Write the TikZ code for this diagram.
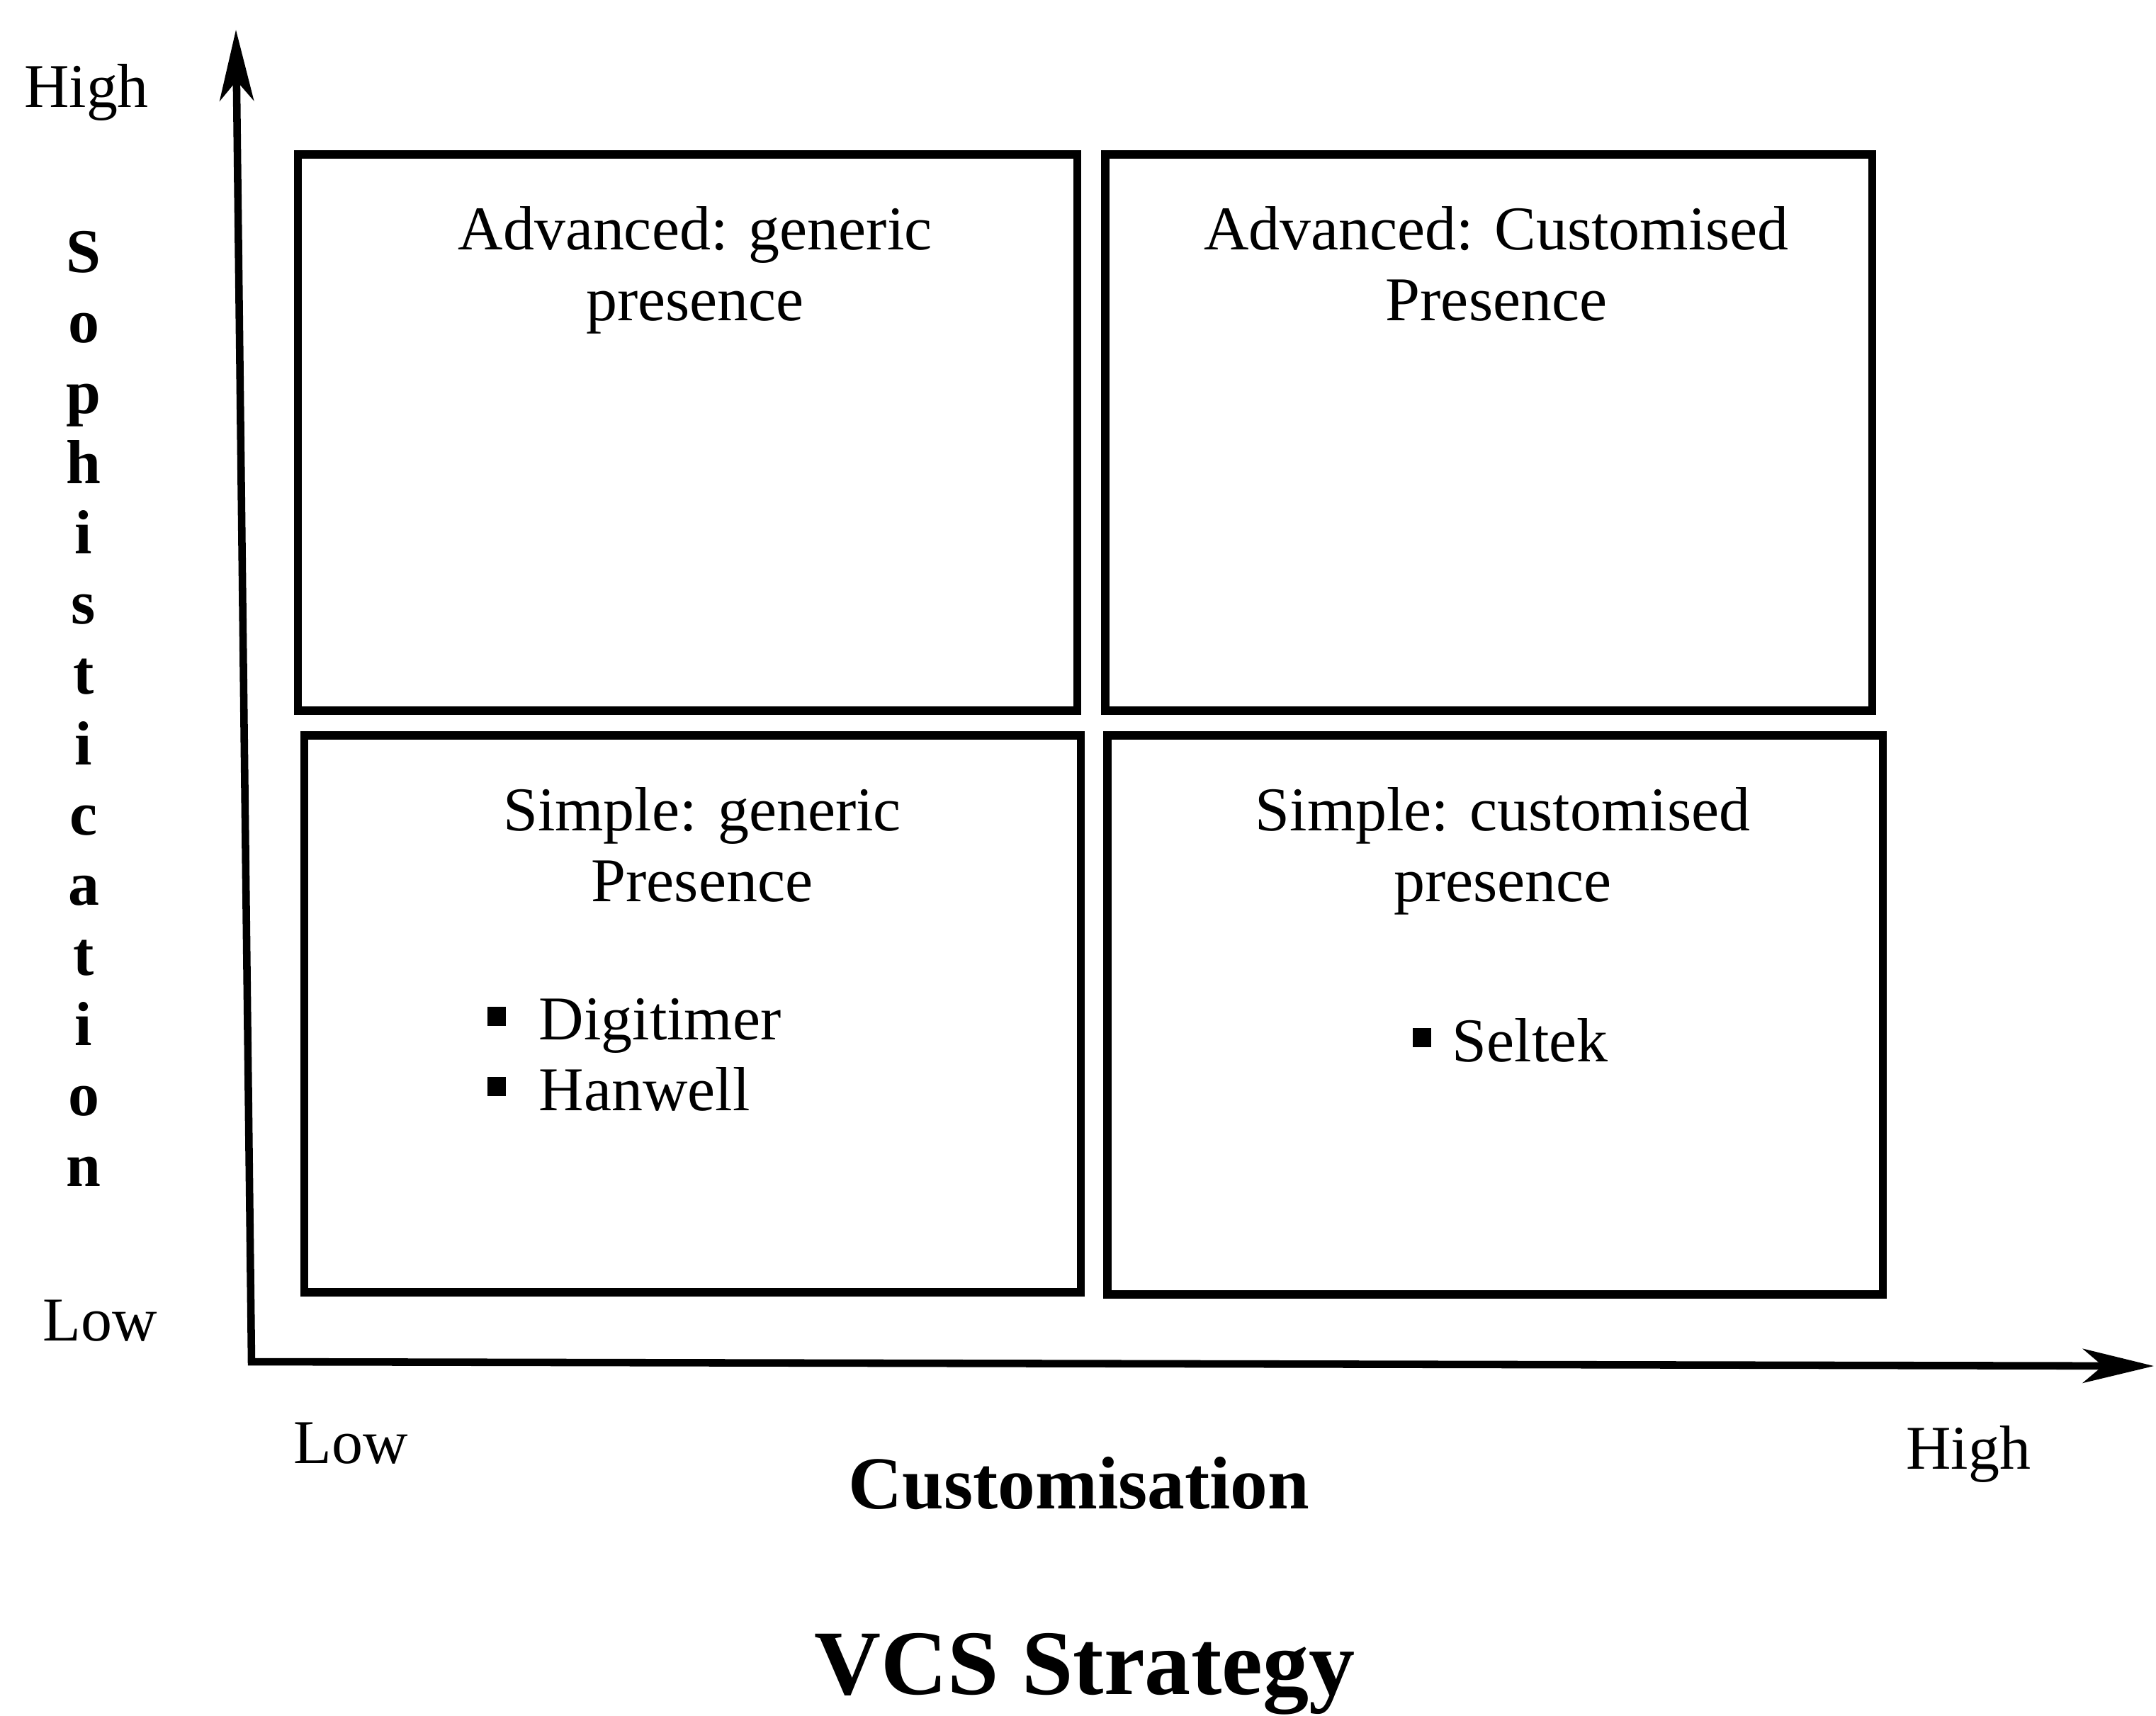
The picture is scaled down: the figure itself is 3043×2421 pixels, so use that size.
\documentclass[tikz,border=0pt]{standalone}
\usepackage{fontspec}
\setmainfont{Liberation Serif}
\usetikzlibrary{arrows.meta}
% small filled square used as a list bullet
\newcommand\sqbul{\raisebox{0.2cm}{\rule{0.26cm}{0.27cm}}}
\begin{document}
\begin{tikzpicture}[x=0.01cm,y=-0.01cm,
  quad/.style={draw,line width=3.3pt,inner sep=0pt,outer sep=0pt},
  axisline/.style={line width=3pt,line join=miter,
    {Stealth[length=1cm,width=0.48cm,inset=0.28cm]}-{Stealth[length=1cm,width=0.48cm,inset=0.28cm]}},
  body/.style={font=\fontsize{25}{28.2}\selectfont,inner sep=0pt},
  bodybf/.style={font=\bfseries\fontsize{25}{28.2}\selectfont,inner sep=0pt},
  xlabel/.style={font=\bfseries\fontsize{30}{36}\selectfont,inner sep=0pt},
  caption/.style={font=\bfseries\fontsize{37}{44}\selectfont,inner sep=0pt}]
\useasboundingbox (0,0) rectangle (3043,2421);

% axes
\coordinate (O) at (355,1922);
\coordinate (ytip) at (333,42);
\coordinate (xtip) at (3040,1928);
\draw[axisline] (ytip) -- (O) -- (xtip);

% the four quadrants
\node[quad,minimum width=10.99cm,minimum height=7.85cm] (tl) at (970.5,610.5) {};
\node[quad,minimum width=10.82cm,minimum height=7.85cm] (tr) at (2101,610.5) {};
\node[quad,minimum width=10.95cm,minimum height=7.86cm] (bl) at (977.5,1431) {};
\node[quad,minimum width=10.94cm,minimum height=7.89cm] (br) at (2110,1432.5) {};

% quadrant titles (base anchor = baseline of the last line)
\node[body,align=center,anchor=base] (tltxt) at (981,452) {Advanced: generic\\presence};
\node[body,align=center,anchor=base] (trtxt) at (2112,452) {Advanced: Customised\\Presence};
\node[body,align=center,anchor=base] (bltxt) at (991,1272) {Simple: generic\\Presence};
\node[body,align=center,anchor=base] (brtxt) at (2121,1272) {Simple: customised\\presence};

% firms in each quadrant
\node[body,align=left,anchor=base west] (firmsa) at (687,1567)
  {\sqbul\hspace{0.47cm}Digitimer\\\sqbul\hspace{0.47cm}Hanwell};
\node[body,anchor=base west] (firmsb) at (1993,1498) {\sqbul\hspace{0.3cm}Seltek};

% axis labels
\node[body,anchor=base] (yhigh) at (122,151) {High};
\node[body,anchor=base] (ylow) at (141,1892) {Low};
\node[bodybf,align=center,anchor=base] (ytitle) at (118,1674)
  {S\\o\\p\\h\\i\\s\\t\\i\\c\\a\\t\\i\\o\\n};
\node[body,anchor=base] (xlow) at (495,2065) {Low};
\node[body,anchor=base] (xhigh) at (2778,2073) {High};
\node[xlabel,anchor=base] (xtitle) at (1523,2129) {Customisation};

% caption
\node[caption,anchor=base] (cap) at (1531,2391) {VCS Strategy};
\end{tikzpicture}
\end{document}
